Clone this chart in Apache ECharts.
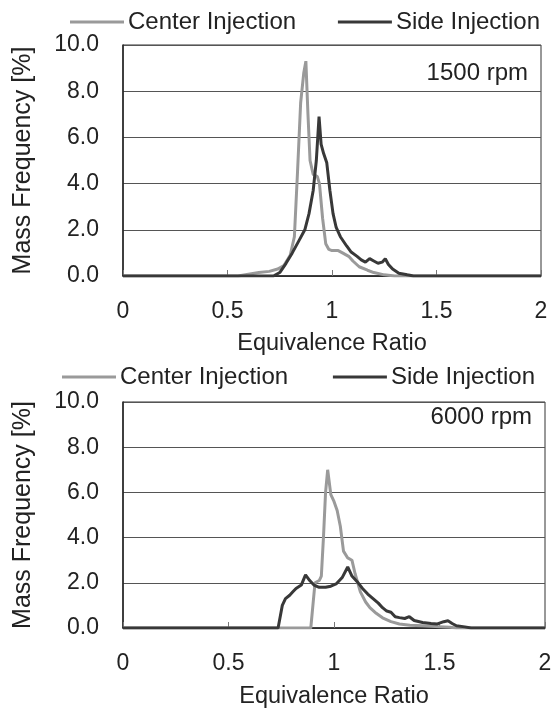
<!DOCTYPE html>
<html><head><meta charset="utf-8">
<script src="https://cdn.jsdelivr.net/npm/echarts@6/dist/echarts.min.js"></script>
<style>html,body{margin:0;padding:0;background:#fff}#c{width:555px;height:710px}</style>
</head><body><div id="c"></div>
<script>
var xTicks = ['0','0.5','1','1.5','2'];
var yTicks = ['0.0','2.0','4.0','6.0','8.0','10.0'];
var seriesNames = ['Center Injection','Side Injection'];
var panelLabels = ['1500 rpm','6000 rpm'];

var top1500CenterX = [0,0.55,0.6,0.65,0.7,0.74,0.77,0.8,0.82,0.835,0.85,0.865,0.875,0.885,0.895,0.91,0.93,0.94,0.955,0.97,0.985,1.0,1.03,1.05,1.08,1.1,1.13,1.17,1.2,1.25,1.3,2];
var top1500CenterY = [0,0,0.08,0.15,0.2,0.3,0.45,0.9,1.7,4.5,7.5,8.8,9.3,7.0,5.0,4.4,4.3,4.0,2.5,1.4,1.15,1.1,1.1,1.0,0.85,0.65,0.4,0.25,0.15,0.05,0,0];
var top1500SideX = [0,0.72,0.75,0.78,0.81,0.84,0.87,0.89,0.91,0.925,0.938,0.948,0.96,0.975,0.99,1.005,1.02,1.04,1.07,1.09,1.12,1.14,1.16,1.18,1.2,1.22,1.24,1.255,1.27,1.29,1.32,1.36,1.39,2];
var top1500SideY = [0,0,0.15,0.55,1.0,1.5,2.0,2.7,3.7,5.0,6.9,5.7,5.3,4.9,3.7,2.7,2.1,1.7,1.3,1.05,0.85,0.7,0.6,0.75,0.65,0.55,0.6,0.75,0.5,0.3,0.12,0.05,0,0];
var bot6000CenterX = [0,0.89,0.9,0.91,0.93,0.94,0.95,0.96,0.97,0.985,1.0,1.015,1.03,1.045,1.065,1.085,1.1,1.125,1.15,1.17,1.2,1.23,1.27,1.31,1.36,1.42,1.5,1.55,1.58,2];
var bot6000CenterY = [0,0,1.0,2.0,2.1,2.3,4.0,6.0,7.0,5.9,5.6,5.2,4.5,3.4,3.1,3.0,2.4,1.6,1.15,0.9,0.65,0.45,0.28,0.18,0.12,0.1,0.06,0.03,0,0];
var bot6000SideX = [0,0.735,0.745,0.755,0.77,0.79,0.805,0.82,0.845,0.865,0.885,0.905,0.93,0.96,0.985,1.01,1.04,1.065,1.085,1.11,1.135,1.16,1.185,1.21,1.23,1.25,1.27,1.29,1.31,1.335,1.357,1.38,1.42,1.46,1.49,1.52,1.54,1.56,1.58,1.62,1.65,2];
var bot6000SideY = [0,0,0.5,1.0,1.3,1.45,1.6,1.75,1.9,2.35,2.1,1.9,1.8,1.8,1.85,1.95,2.25,2.7,2.3,2.05,1.75,1.5,1.3,1.1,0.9,0.75,0.7,0.5,0.46,0.42,0.5,0.33,0.24,0.2,0.18,0.28,0.32,0.2,0.1,0.05,0,0];

function zip(xs, ys){ return xs.map(function(x,i){ return [x, ys[i]]; }); }

var FONT = 'Liberation Sans, Arial, sans-serif';
var TXT = '#222';
var C_CENTER = '#9a9a9a';
var C_SIDE = '#383838';

function xAxis(gi, nameGap){
  return {
    type:'value', gridIndex:gi, min:0, max:2, interval:0.5,
    name:'Equivalence Ratio', nameLocation:'middle', nameGap:nameGap,
    nameTextStyle:{fontFamily:FONT, fontSize:23.5, color:TXT},
    axisLine:{show:true, lineStyle:{color:'#222', width:1.5}},
    axisTick:{show:true, inside:true, length:6, lineStyle:{color:'#777'}},
    axisLabel:{fontFamily:FONT, fontSize:23, color:TXT, margin:24,
      formatter:function(v){ return xTicks[Math.round(v/0.5)]; }},
    splitLine:{show:false}
  };
}
function yAxis(gi){
  return {
    type:'value', gridIndex:gi, min:0, max:10, interval:2,
    name:'Mass Frequency [%]', nameLocation:'middle', nameGap:87, nameRotate:90,
    nameTextStyle:{fontFamily:FONT, fontSize:25, color:TXT},
    axisLine:{show:true, lineStyle:{color:'#222', width:1.5}},
    axisTick:{show:false},
    axisLabel:{fontFamily:FONT, fontSize:23, color:TXT, margin:24,
      formatter:function(v){ return yTicks[Math.round(v/2)]; }},
    splitLine:{show:true, lineStyle:{color:'#555', width:1}}
  };
}
function legendItem(name, pos, top){
  var o = {data:[name], top:top, icon:'rect', itemWidth:54, itemHeight:3, itemGap:4,
    textStyle:{fontFamily:FONT, fontSize:24, color:TXT, padding:[0,0,0,-1]}, padding:0, selectedMode:false};
  for (var k in pos) o[k] = pos[k];
  return o;
}
function line(name, gi, data, color){
  return {type:'line', name:name, xAxisIndex:gi, yAxisIndex:gi, data:data,
    showSymbol:false, symbol:'none', smooth:false, animation:false,
    lineStyle:{color:color, width:3}, itemStyle:{color:color}, z:3};
}

var option = {
  animation:false,
  grid:[
    {left:123, top:45, width:418, height:231, show:true, borderColor:'#333', borderWidth:1, backgroundColor:'transparent'},
    {left:123, top:402, width:422, height:232, show:true, borderColor:'#333', borderWidth:1, backgroundColor:'transparent'}
  ],
  xAxis:[xAxis(0,56), xAxis(1,57)],
  yAxis:[yAxis(0), yAxis(1)],
  legend:[
    legendItem(seriesNames[0], {left:70}, 10),
    legendItem(seriesNames[1], {right:15}, 10),
    legendItem(seriesNames[0], {left:62}, 365),
    legendItem(seriesNames[1], {right:20}, 365)
  ],
  title:[
    {text:panelLabels[0], right:27, top:61, padding:0, textStyle:{fontFamily:FONT, fontSize:24, fontWeight:'normal', color:TXT}},
    {text:panelLabels[1], right:23, top:405, padding:0, textStyle:{fontFamily:FONT, fontSize:24, fontWeight:'normal', color:TXT}}
  ],
  series:[
    line(seriesNames[0], 0, zip(top1500CenterX, top1500CenterY), C_CENTER),
    line(seriesNames[1], 0, zip(top1500SideX, top1500SideY), C_SIDE),
    line(seriesNames[0], 1, zip(bot6000CenterX, bot6000CenterY), C_CENTER),
    line(seriesNames[1], 1, zip(bot6000SideX, bot6000SideY), C_SIDE)
  ]
};
var chart = echarts.init(document.getElementById('c'), null, {renderer:'canvas'});
chart.setOption(option);
</script>
</body></html>
